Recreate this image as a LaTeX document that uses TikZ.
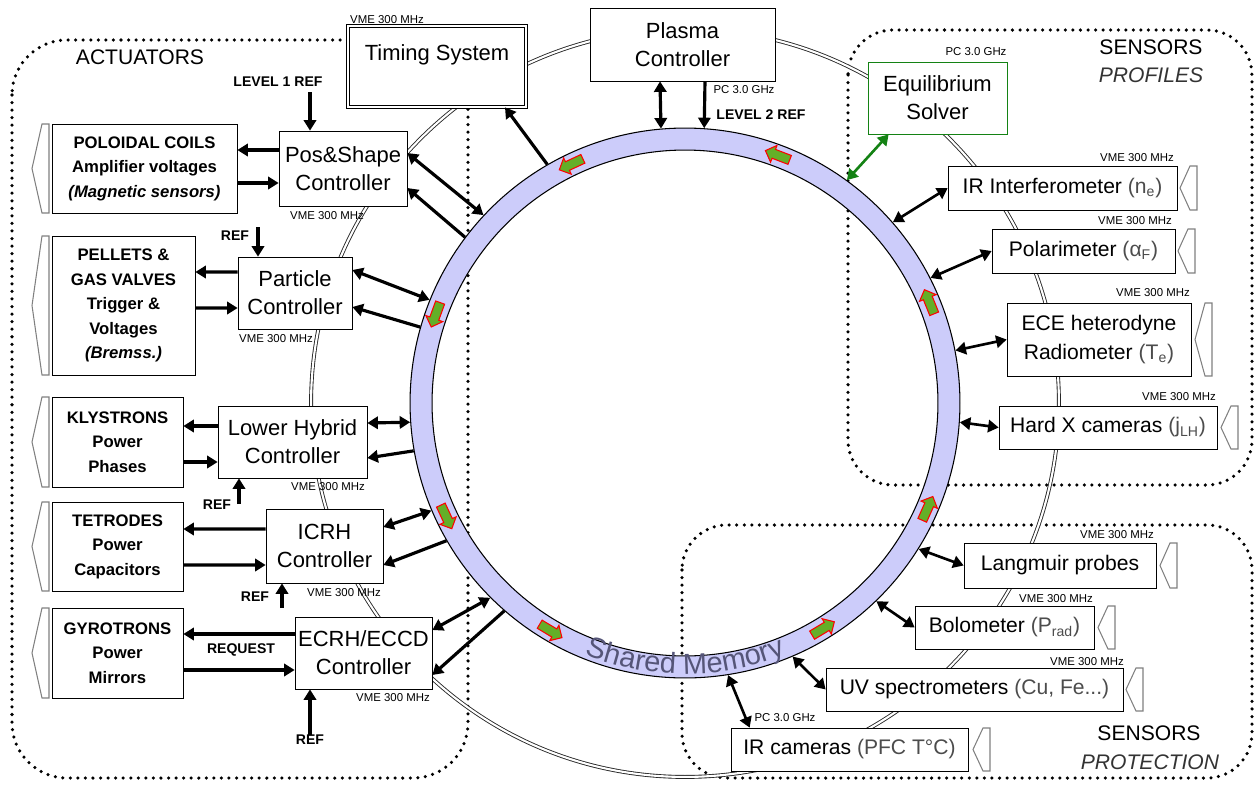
\documentclass[tikz,border=0pt]{standalone}
\usepackage{fontspec}
\setmainfont{Liberation Sans}
\usetikzlibrary{arrows.meta, shapes.arrows, calc, decorations.text}

\definecolor{memfill}{RGB}{204,204,250}
\definecolor{memtext}{RGB}{85,85,120}
\definecolor{eqgreen}{RGB}{20,130,20}
\definecolor{flowgreen}{RGB}{100,175,40}
\newcommand{\paren}[1]{{\color{black!70}#1}}

\begin{document}
\begin{tikzpicture}[x=0.02cm, y=-0.02cm,
    region/.style={line width=2pt, dash pattern=on 0pt off 4.3pt, line cap=round},
    actbox/.style={draw, fill=white, align=center, inner sep=0pt, font=\bfseries\fontsize{9.5}{14}\selectfont},
    ctlbox/.style={draw, fill=white, align=center, inner sep=0pt, font=\fontsize{12.5}{16}\selectfont},
    senbox/.style={draw, fill=white, align=center, inner sep=0pt, font=\fontsize{12}{16}\selectfont},
    mhz/.style={inner sep=0pt, font=\fontsize{6.5}{7}\selectfont},
    reflabel/.style={inner sep=0pt, font=\bfseries\fontsize{8}{9}\selectfont},
    grouptitle/.style={inner sep=0pt, font=\fontsize{12}{14}\selectfont},
    chev/.style={draw=black!50, line width=0.6pt},
    arr/.style={line width=1.8pt, -{Triangle[length=6pt, width=7pt]}},
    darr/.style={line width=1.8pt, {Triangle[length=6pt, width=7pt]}-{Triangle[length=6pt, width=7pt]}},
    flow/.style={single arrow, draw=red, fill=flowgreen, line width=0.6pt, minimum height=0.52cm, inner sep=2.4pt, single arrow head extend=2.4pt}]
\useasboundingbox (0,0) rectangle (1259,785);

\draw[region, rounded corners=1.1cm] (12,40) rectangle (468,778);
\draw[region, rounded corners=0.9cm] (848,30) rectangle (1252,485);
\draw[region, rounded corners=0.9cm] (682,525) rectangle (1252,778);

\node[circle, draw=black!85, double, double distance=1.2pt, line width=0.5pt, minimum size=14.96cm, inner sep=0pt] (bus) at (685,403) {};

\fill[memfill, even odd rule] (685,403) circle[radius=275] circle[radius=253];
\node[circle, draw, line width=0.6pt, minimum size=11cm, inner sep=0pt] (ring) at (685,403) {};
\node[circle, draw, line width=0.6pt, minimum size=10.12cm, inner sep=0pt] (hole) at (685,403) {};
\foreach \a in {22,69,115,160,205,239,301,336}
  \node[flow, rotate=\a+90] at ($(ring.center)!0.96!(ring.\a)$) {};
\path[decorate, decoration={text along path, text align=center,
    text={|\fontsize{16.5}{16}\selectfont\color{memtext}|Shared Memory}}]
  (685,403) ++(119:271) arc[start angle=119, end angle=61, radius=271];

\node[actbox, minimum width=3.7cm, minimum height=1.78cm] (coils) at (144.5,168.5) {POLOIDAL COILS\\Amplifier voltages\\\textit{(Magnetic sensors)}};
\node[actbox, minimum width=2.86cm, minimum height=2.78cm] (pellets) at (123.5,305.5) {PELLETS \&\\GAS VALVES\\Trigger \&\\Voltages\\\textit{(Bremss.)}};
\node[actbox, minimum width=2.62cm, minimum height=1.8cm] (klystrons) at (117.5,442) {KLYSTRONS\\Power\\Phases};
\node[actbox, minimum width=2.62cm, minimum height=1.78cm] (tetrodes) at (117.5,546.5) {TETRODES\\Power\\Capacitors};
\node[actbox, minimum width=2.62cm, minimum height=1.8cm] (gyrotrons) at (117.5,653) {GYROTRONS\\Power\\Mirrors};

\node[ctlbox, minimum width=2.56cm, minimum height=1.5cm] (posshape) at (343,168.5) {Pos\&Shape\\Controller};
\node[ctlbox, minimum width=2.28cm, minimum height=1.44cm] (particle) at (295,293) {Particle\\Controller};
\node[ctlbox, minimum width=2.98cm, minimum height=1.44cm] (lowerhybrid) at (292.5,442) {Lower Hybrid\\Controller};
\node[ctlbox, minimum width=2.34cm, minimum height=1.48cm] (icrh) at (324.5,546) {ICRH\\Controller};
\node[ctlbox, minimum width=2.74cm, minimum height=1.44cm] (ecrh) at (363.5,653) {ECRH/ECCD\\Controller};
\node[ctlbox, double, double distance=1.2pt, minimum width=3.56cm, minimum height=1.62cm] (timing) at (437,66.5) {Timing System\\~};
\node[ctlbox, minimum width=3.7cm, minimum height=1.46cm] (plasma) at (682.5,44.5) {Plasma\\Controller};
\node[ctlbox, draw=eqgreen, minimum width=2.78cm, minimum height=1.44cm] (equil) at (937.5,98) {Equilibrium\\Solver};

\node[senbox, minimum width=4.58cm, minimum height=0.88cm] (interf) at (1062.5,188) {IR Interferometer \paren{(n\textsubscript{e})}};
\node[senbox, minimum width=3.66cm, minimum height=0.88cm] (polar) at (1083.5,251) {Polarimeter \paren{(α\textsubscript{F})}};
\node[senbox, minimum width=3.68cm, minimum height=1.46cm] (ece) at (1099,339.5) {ECE heterodyne\\Radiometer \paren{(T\textsubscript{e})}};
\node[senbox, minimum width=4.36cm, minimum height=0.86cm] (hardx) at (1108,427.5) {Hard X cameras \paren{(j\textsubscript{LH})}};
\node[senbox, minimum width=3.84cm, minimum height=0.9cm] (langmuir) at (1060,565.5) {Langmuir probes};
\node[senbox, minimum width=3.58cm, minimum height=0.86cm] (bolo) at (1004.5,627.5) {Bolometer \paren{(P\textsubscript{rad})}};
\node[senbox, minimum width=5.94cm, minimum height=0.86cm] (uvspec) at (974.5,689.5) {UV spectrometers \paren{(Cu, Fe...)}};
\node[senbox, minimum width=4.74cm, minimum height=0.86cm] (ircam) at (849.5,749.5) {IR cameras \paren{(PFC T°C)}};

\foreach \r/\t/\b in {49/124/213, 49/236/375, 49/397/487, 49/502/591, 49/608/698,
    1197/166/210, 1195/229/273, 1212/303/376, 1238/406/449,
    1177/543/588, 1115/606/649, 1143/668/711, 990/728/771}
  \draw[chev] (\r,\t) -- ({\r-7},\t) -- ({\r-17},{(\t+\b)/2}) -- ({\r-7},\b) -- (\r,\b) -- cycle;

\draw[arr] ([yshift=0.37cm]posshape.west) -- ([yshift=0.37cm]coils.east);
\draw[arr] ([yshift=-0.29cm]coils.east) -- ([yshift=-0.29cm]posshape.west);
\draw[arr] ([yshift=0.42cm]particle.west) -- ([yshift=0.67cm]pellets.east);
\draw[arr] ([yshift=-0.05cm]pellets.east) -- ([yshift=-0.3cm]particle.west);
\draw[arr] ([yshift=0.32cm]lowerhybrid.west) -- ([yshift=0.32cm]klystrons.east);
\draw[arr] ([yshift=-0.4cm]klystrons.east) -- ([yshift=-0.4cm]lowerhybrid.west);
\draw[arr] ([yshift=0.34cm]icrh.west) -- ([yshift=0.35cm]tetrodes.east);
\draw[arr] ([yshift=-0.37cm]tetrodes.east) -- ([yshift=-0.38cm]icrh.west);
\draw[arr] ([yshift=0.38cm]ecrh.west) -- ([yshift=0.38cm]gyrotrons.east);
\draw[arr] ([yshift=-0.34cm]gyrotrons.east) -- ([yshift=-0.34cm]ecrh.west);

\draw[darr] ([yshift=0.31cm]posshape.east) -- (ring.137);
\draw[arr] (ring.143) -- ([yshift=-0.39cm]posshape.east);
\draw[darr] ([yshift=0.46cm]particle.east) -- (ring.158);
\draw[arr] (ring.164) -- ([yshift=-0.28cm]particle.east);
\draw[darr] ([yshift=0.38cm]lowerhybrid.east) -- (ring.184);
\draw[arr] (ring.190) -- ([yshift=-0.32cm]lowerhybrid.east);
\draw[darr] ([yshift=0.38cm]icrh.east) -- (ring.203);
\draw[arr] (ring.210) -- ([yshift=-0.38cm]icrh.east);
\draw[darr] ([yshift=0.46cm]ecrh.east) -- (ring.225);
\draw[arr] (ring.229) -- ([yshift=-0.44cm]ecrh.east);
\draw[arr] (ring.120) -- ([xshift=1.36cm]timing.south);
\draw[darr] ([xshift=-0.45cm]plasma.south) -- (ring.95);
\draw[arr] ([xshift=0.45cm]plasma.south) -- (ring.86);
\draw[darr, draw=eqgreen, line width=1.5pt] ([xshift=0.42cm]equil.south west) -- (ring.54);

\draw[darr, line width=1.5pt] (ring.41) -- (interf.west);
\draw[darr, line width=1.5pt] (ring.27) -- (polar.west);
\draw[darr, line width=1.5pt] (ring.11) -- (ece.west);
\draw[darr, line width=1.5pt] (ring.356) -- (hardx.west);
\draw[darr, line width=1.5pt] (ring.328) -- (langmuir.west);
\draw[darr, line width=1.5pt] (ring.314) -- (bolo.west);
\draw[darr, line width=1.5pt] (ring.293) -- (uvspec.west);
\draw[darr, line width=1.5pt] (ring.279) -- ([xshift=0.38cm]ircam.north west);

\node[reflabel] (lvone) at (278,82) {LEVEL 1 REF};
\coordinate (lvonetip) at (310,92);
\draw[arr] (lvonetip) -- (lvonetip |- posshape.north);
\node[reflabel] (lvtwo) at (761,115) {LEVEL 2 REF};
\node[reflabel] (refpar) at (235,236) {REF};
\coordinate (refa) at (258,227);
\draw[arr] (refa) -- (refa |- particle.north);
\node[reflabel] (reflh) at (217,505) {REF};
\coordinate (refb) at (239,504);
\draw[arr] (refb) -- (refb |- lowerhybrid.south);
\node[reflabel] (reficrh) at (255,597) {REF};
\coordinate (refc) at (282,608);
\draw[arr] (refc) -- (refc |- icrh.south);
\node[reflabel] (refecrh) at (310,740) {REF};
\draw[arr] (refecrh.north) -- (refecrh.north |- ecrh.south);
\node[reflabel] (request) at (241,650) {REQUEST};

\node[mhz] (vmetiming) at (387,20) {VME 300 MHz};
\node[mhz] (vmepos) at (327,216) {VME 300 MHz};
\node[mhz] (vmepar) at (276,339) {VME 300 MHz};
\node[mhz] (vmelh) at (328,487) {VME 300 MHz};
\node[mhz] (vmeicrh) at (344,593) {VME 300 MHz};
\node[mhz] (vmeecrh) at (393,698) {VME 300 MHz};
\node[mhz] (pcplasma) at (744,90) {PC 3.0 GHz};
\node[mhz] (pcequil) at (976,52) {PC 3.0 GHz};
\node[mhz] (vmeinterf) at (1137,158) {VME 300 MHz};
\node[mhz] (vmepolar) at (1135,221) {VME 300 MHz};
\node[mhz] (vmeece) at (1153,293) {VME 300 MHz};
\node[mhz] (vmehardx) at (1179,397) {VME 300 MHz};
\node[mhz] (vmelang) at (1117,535) {VME 300 MHz};
\node[mhz] (vmebolo) at (1056,599) {VME 300 MHz};
\node[mhz] (vmeuv) at (1087,662) {VME 300 MHz};
\node[mhz] (pcircam) at (785,718) {PC 3.0 GHz};

\node[grouptitle] (actuators) at (140,57) {ACTUATORS};
\node[grouptitle] (senprof) at (1151,47) {SENSORS};
\node[grouptitle, font=\itshape\fontsize{12}{14}\selectfont, text=black!80] (profiles) at (1151,75) {PROFILES};
\node[grouptitle] (senprot) at (1149,733) {SENSORS};
\node[grouptitle, font=\itshape\fontsize{12}{14}\selectfont, text=black!80] (protection) at (1150,762) {PROTECTION};
\end{tikzpicture}
\end{document}
